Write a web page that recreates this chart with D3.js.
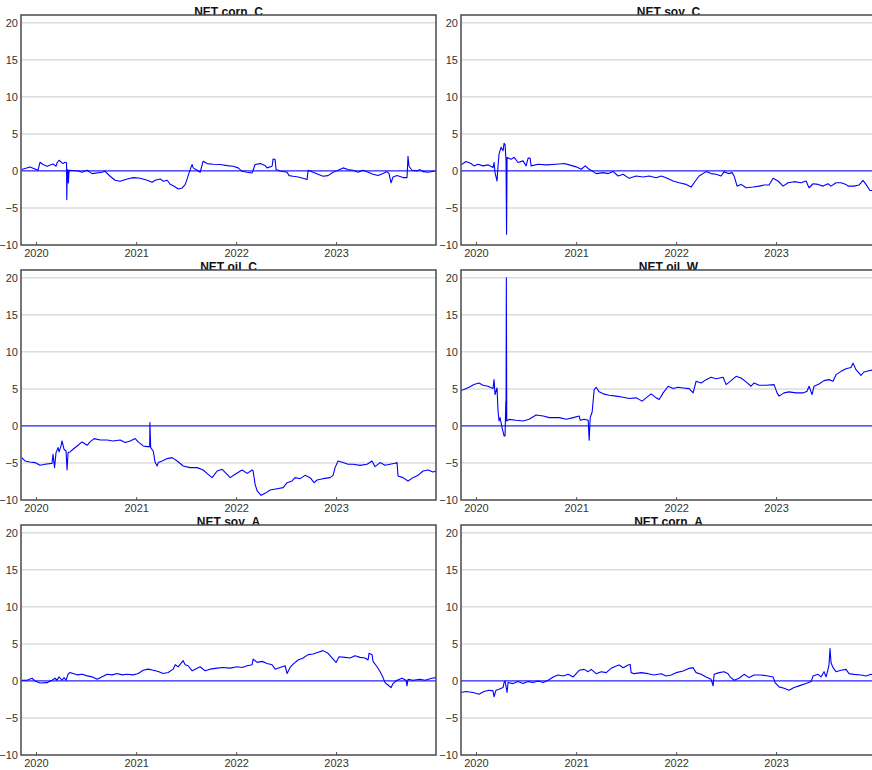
<!DOCTYPE html>
<html>
<head>
<meta charset="utf-8">
<script src="https://cdn.jsdelivr.net/npm/d3@7"></script>
<style>
  body { margin: 0; background: #fff; }
  svg { display: block; font-family: "Liberation Sans", Arial, sans-serif; }
</style>
</head>
<body>
<svg id="chart" width="872" height="770"></svg>
<script>
// series points: [decimal year, value]
const cornC = [
  [2019.857,0.18],[2019.94,0.54],[2020.02,0.09],[2020.04,1.17],[2020.07,0.86],[2020.11,0.63],[2020.17,0.95],
  [2020.20,0.63],[2020.21,1.08],[2020.23,1.44],[2020.27,0.99],[2020.29,1.17],[2020.305,1.1],[2020.307,-3.87],
  [2020.313,0.18],[2020.32,0.1],[2020.323,-1.62],[2020.33,0.09],[2020.42,0],[2020.46,-0.18],[2020.51,0.09],
  [2020.56,-0.36],[2020.66,-0.18],[2020.69,-0.05],[2020.74,-0.72],[2020.79,-1.26],[2020.84,-1.40],[2020.91,-1.08],
  [2020.97,-0.90],[2021.04,-0.99],[2021.11,-1.26],[2021.16,-1.53],[2021.19,-1.26],[2021.24,-1.08],[2021.27,-1.40],
  [2021.31,-1.26],[2021.34,-1.80],[2021.38,-2.07],[2021.42,-2.43],[2021.46,-2.30],[2021.49,-1.85],[2021.51,-1.08],
  [2021.52,-0.63],[2021.54,0.18],[2021.56,0.86],[2021.57,0.41],[2021.61,0.09],[2021.64,-0.18],[2021.67,1.31],
  [2021.71,0.99],[2021.77,0.90],[2021.84,0.86],[2021.91,0.72],[2021.97,0.63],[2022.02,0.41],[2022.06,-0.05],
  [2022.11,-0.18],[2022.16,-0.27],[2022.17,0.09],[2022.19,0.86],[2022.24,0.99],[2022.29,0.72],[2022.31,0.41],
  [2022.36,0.63],[2022.37,1.62],[2022.39,1.53],[2022.40,0.18],[2022.44,0],[2022.51,-0.18],[2022.53,-0.63],
  [2022.57,-0.72],[2022.62,-0.81],[2022.67,-0.99],[2022.71,-1.17],[2022.72,0.09],[2022.77,-0.18],[2022.82,-0.45],
  [2022.87,-0.72],[2022.92,-0.63],[2022.97,-0.18],[2023.02,0.09],[2023.07,0.41],[2023.12,0.18],[2023.17,0.09],
  [2023.22,-0.18],[2023.27,0.09],[2023.32,-0.18],[2023.37,-0.45],[2023.42,-0.63],[2023.47,-0.36],[2023.51,-0.09],
  [2023.53,-0.36],[2023.55,-1.62],[2023.57,-0.81],[2023.61,-0.63],[2023.67,-0.90],[2023.71,-0.90],[2023.72,1.98],
  [2023.73,0.63],[2023.76,0.09],[2023.81,0],[2023.84,0.18],[2023.87,-0.09],[2023.92,-0.18],[2023.99,0]
];

const soyC = [
  [2019.85,0.82],[2019.90,1.27],[2019.95,1.0],[2019.98,0.68],[2020.02,0.91],[2020.07,0.68],[2020.12,0.82],
  [2020.17,0.45],[2020.18,1.14],[2020.19,-0.23],[2020.21,-1.36],[2020.22,0.68],[2020.23,2.27],[2020.25,3.18],
  [2020.27,2.73],[2020.28,3.73],[2020.29,3.55],[2020.30,1.36],[2020.305,-8.55],[2020.31,1.82],[2020.35,1.59],
  [2020.38,1.82],[2020.42,1.14],[2020.47,1.36],[2020.50,0.68],[2020.52,1.73],[2020.54,1.73],[2020.55,0.68],
  [2020.62,0.91],[2020.70,0.82],[2020.80,0.91],[2020.88,1.0],[2020.93,0.82],[2021.00,0.55],[2021.05,0.23],
  [2021.09,0.68],[2021.13,0.23],[2021.17,-0.09],[2021.20,-0.36],[2021.27,-0.23],[2021.32,-0.36],[2021.37,-0.09],
  [2021.42,-0.68],[2021.47,-0.45],[2021.53,-1.0],[2021.60,-0.68],[2021.67,-0.82],[2021.73,-0.68],[2021.80,-0.91],
  [2021.85,-0.68],[2021.90,-0.91],[2021.97,-1.36],[2022.03,-1.59],[2022.10,-1.82],[2022.15,-2.18],[2022.18,-1.59],
  [2022.23,-0.68],[2022.30,-0.09],[2022.35,-0.36],[2022.40,-0.45],[2022.45,-0.68],[2022.48,-0.09],[2022.52,-0.36],
  [2022.56,-0.23],[2022.58,-0.68],[2022.61,-2.05],[2022.65,-1.82],[2022.70,-2.27],[2022.77,-2.18],[2022.83,-2.05],
  [2022.88,-1.91],[2022.93,-1.91],[2022.97,-1.0],[2023.02,-1.36],[2023.07,-2.05],[2023.12,-1.59],[2023.18,-1.45],
  [2023.25,-1.59],[2023.30,-1.36],[2023.33,-2.27],[2023.37,-1.73],[2023.42,-1.82],[2023.47,-2.05],[2023.52,-1.73],
  [2023.55,-2.05],[2023.60,-1.59],[2023.65,-1.59],[2023.70,-1.82],[2023.72,-2.05],[2023.78,-2.05],[2023.83,-1.91],
  [2023.87,-1.27],[2023.90,-1.82],[2023.94,-2.64],[2024.0,-2.64]
];

const oilC = [
  [2019.857,-4.28],[2019.89,-4.73],[2019.94,-4.86],[2019.99,-4.95],[2020.04,-5.32],[2020.09,-5.18],[2020.16,-5.05],
  [2020.17,-3.83],[2020.185,-5.63],[2020.20,-3.60],[2020.22,-2.93],[2020.23,-3.51],[2020.25,-2.70],[2020.26,-2.03],
  [2020.28,-3.15],[2020.30,-3.38],[2020.31,-5.95],[2020.32,-3.60],[2020.34,-3.51],[2020.37,-3.15],[2020.42,-2.61],
  [2020.46,-2.16],[2020.51,-2.61],[2020.54,-2.16],[2020.58,-1.71],[2020.64,-1.89],[2020.71,-1.89],[2020.77,-2.03],
  [2020.84,-1.89],[2020.89,-2.25],[2020.94,-2.03],[2020.99,-1.71],[2021.02,-2.16],[2021.07,-2.70],[2021.11,-2.79],
  [2021.135,-2.8],[2021.137,0.45],[2021.145,-2.93],[2021.17,-3.38],[2021.19,-4.95],[2021.21,-5.41],[2021.22,-4.95],
  [2021.26,-4.73],[2021.31,-4.41],[2021.36,-4.28],[2021.41,-4.73],[2021.47,-5.41],[2021.54,-5.63],[2021.61,-5.63],
  [2021.67,-5.95],[2021.72,-6.53],[2021.76,-6.98],[2021.81,-6.08],[2021.86,-5.86],[2021.91,-6.53],[2021.94,-6.98],
  [2021.99,-6.53],[2022.06,-5.95],[2022.11,-6.40],[2022.16,-5.95],[2022.17,-6.08],[2022.19,-7.88],[2022.21,-8.78],
  [2022.25,-9.37],[2022.29,-9.10],[2022.34,-8.65],[2022.41,-8.47],[2022.47,-8.33],[2022.51,-7.66],[2022.56,-7.43],
  [2022.59,-6.98],[2022.64,-7.12],[2022.69,-6.67],[2022.74,-6.98],[2022.78,-7.66],[2022.81,-7.30],[2022.87,-7.12],
  [2022.94,-6.98],[2022.97,-6.67],[2022.99,-5.63],[2023.02,-4.73],[2023.07,-4.95],[2023.12,-5.18],[2023.17,-5.18],
  [2023.24,-5.32],[2023.31,-5.18],[2023.36,-4.73],[2023.39,-5.50],[2023.44,-4.95],[2023.49,-5.32],[2023.54,-5.18],
  [2023.59,-5.05],[2023.61,-4.95],[2023.62,-6.76],[2023.67,-6.98],[2023.72,-7.43],[2023.77,-6.98],[2023.82,-6.67],
  [2023.87,-6.08],[2023.92,-5.95],[2023.97,-6.22],[2024.0,-6.08]
];

const oilW = [
  [2019.85,4.78],[2019.88,4.91],[2019.93,5.22],[2019.98,5.58],[2020.03,5.80],[2020.07,5.49],[2020.12,5.36],
  [2020.17,5.04],[2020.18,6.25],[2020.19,4.24],[2020.21,5.13],[2020.22,2.01],[2020.23,0.67],[2020.24,1.12],
  [2020.26,-0.22],[2020.28,-1.34],[2020.29,-1.34],[2020.298,3.35],[2020.30,0.8],[2020.303,20.0],[2020.307,0.67],
  [2020.33,0.89],[2020.40,0.76],[2020.47,0.67],[2020.53,0.89],[2020.60,1.47],[2020.67,1.34],[2020.73,1.12],
  [2020.83,1.12],[2020.90,0.89],[2020.97,1.12],[2021.03,1.34],[2021.04,0.76],[2021.08,0.89],[2021.12,0.76],
  [2021.13,-1.92],[2021.14,1.12],[2021.16,1.92],[2021.18,4.91],[2021.20,5.22],[2021.23,4.60],[2021.27,4.33],
  [2021.33,4.15],[2021.40,4.02],[2021.47,3.88],[2021.53,3.71],[2021.60,3.79],[2021.66,3.35],[2021.70,3.79],
  [2021.75,4.33],[2021.80,3.79],[2021.83,3.57],[2021.87,4.46],[2021.92,5.36],[2021.97,5.04],[2022.02,5.22],
  [2022.07,5.13],[2022.13,5.04],[2022.17,4.46],[2022.20,6.03],[2022.25,5.80],[2022.30,6.25],[2022.35,6.56],
  [2022.40,6.38],[2022.47,6.56],[2022.50,5.58],[2022.55,6.12],[2022.60,6.70],[2022.65,6.47],[2022.70,5.94],
  [2022.75,5.36],[2022.78,5.80],[2022.83,5.49],[2022.90,5.49],[2022.98,5.58],[2023.01,4.46],[2023.03,4.02],
  [2023.08,4.46],[2023.13,4.60],[2023.20,4.46],[2023.27,4.46],[2023.31,4.69],[2023.33,5.36],[2023.36,4.24],
  [2023.38,5.36],[2023.43,5.67],[2023.48,6.12],[2023.53,6.25],[2023.57,6.03],[2023.60,6.92],[2023.65,7.37],
  [2023.70,7.72],[2023.75,7.90],[2023.77,8.48],[2023.80,7.59],[2023.85,6.83],[2023.88,7.28],[2023.93,7.46],
  [2023.98,7.59],[2024.0,7.6]
];

const soyA = [
  [2019.857,0.09],[2019.91,0.09],[2019.96,0.36],[2019.99,0],[2020.04,-0.27],[2020.11,-0.23],[2020.16,0.09],
  [2020.19,0.36],[2020.21,0.09],[2020.23,0.55],[2020.26,0.09],[2020.28,0.45],[2020.30,0.09],[2020.32,0.91],
  [2020.34,1.14],[2020.37,1.0],[2020.41,0.82],[2020.46,0.91],[2020.51,0.68],[2020.56,0.55],[2020.61,0.23],
  [2020.66,0.55],[2020.71,0.91],[2020.76,0.82],[2020.81,1.0],[2020.86,0.82],[2020.91,0.91],[2020.97,0.82],
  [2021.02,1.0],[2021.07,1.45],[2021.12,1.59],[2021.17,1.45],[2021.22,1.27],[2021.27,1.0],[2021.32,1.14],
  [2021.37,1.59],[2021.39,2.18],[2021.42,1.91],[2021.47,2.73],[2021.49,2.18],[2021.52,2.05],[2021.56,1.36],
  [2021.59,1.59],[2021.64,1.91],[2021.69,1.36],[2021.74,1.59],[2021.81,1.73],[2021.87,1.82],[2021.94,1.73],
  [2022.01,1.91],[2022.06,1.82],[2022.11,2.05],[2022.16,2.18],[2022.17,2.95],[2022.21,2.50],[2022.26,2.64],
  [2022.31,2.36],[2022.36,2.18],[2022.39,1.59],[2022.44,1.82],[2022.49,2.05],[2022.51,1.0],[2022.54,1.82],
  [2022.57,2.27],[2022.62,2.82],[2022.67,3.09],[2022.72,3.55],[2022.77,3.64],[2022.82,3.86],[2022.87,4.09],
  [2022.92,3.73],[2022.97,2.95],[2023.00,2.50],[2023.03,3.27],[2023.09,3.18],[2023.14,3.09],[2023.19,3.41],
  [2023.24,3.18],[2023.29,3.09],[2023.32,2.82],[2023.33,3.73],[2023.36,3.55],[2023.37,2.64],[2023.41,1.91],
  [2023.44,1.27],[2023.47,0.45],[2023.49,-0.23],[2023.52,-0.55],[2023.55,-0.91],[2023.57,-0.36],[2023.61,0.09],
  [2023.66,0.36],[2023.70,0.09],[2023.71,-0.68],[2023.72,0.23],[2023.77,0.09],[2023.84,0.23],[2023.89,0.09],
  [2023.96,0.36],[2024.0,0.45]
];

const cornA = [
  [2019.85,-1.56],[2019.90,-1.43],[2019.97,-1.56],[2020.03,-1.79],[2020.08,-1.43],[2020.13,-1.25],[2020.17,-1.34],
  [2020.18,-2.14],[2020.20,-1.25],[2020.23,-1.12],[2020.27,-0.89],[2020.28,-0.22],[2020.29,0],[2020.31,-1.56],
  [2020.32,-0.22],[2020.37,-0.36],[2020.42,-0.09],[2020.47,-0.36],[2020.52,-0.09],[2020.57,-0.22],[2020.62,0],
  [2020.67,-0.22],[2020.72,0.09],[2020.77,0.54],[2020.82,0.80],[2020.87,0.67],[2020.92,0.89],[2020.97,0.54],
  [2021.00,0.98],[2021.03,1.43],[2021.08,1.56],[2021.12,1.25],[2021.15,1.56],[2021.20,0.98],[2021.25,1.25],
  [2021.30,1.12],[2021.35,1.70],[2021.40,2.01],[2021.43,2.14],[2021.47,1.79],[2021.52,2.14],[2021.54,2.23],
  [2021.55,1.12],[2021.58,0.98],[2021.65,1.12],[2021.72,0.98],[2021.78,0.80],[2021.85,0.98],[2021.90,0.67],
  [2021.95,0.80],[2022.00,1.12],[2022.07,1.34],[2022.13,1.70],[2022.17,1.79],[2022.20,1.12],[2022.25,0.89],
  [2022.30,0.54],[2022.35,0.22],[2022.37,-0.67],[2022.38,0.89],[2022.43,1.12],[2022.48,1.25],[2022.52,0.98],
  [2022.54,0.54],[2022.58,0.09],[2022.63,0.36],[2022.68,0.89],[2022.73,0.45],[2022.78,0.80],[2022.85,0.80],
  [2022.92,0.67],[2022.97,0.54],[2022.99,-0.22],[2023.03,-0.80],[2023.08,-0.98],[2023.13,-1.25],[2023.18,-0.89],
  [2023.23,-0.67],[2023.30,-0.36],[2023.35,-0.09],[2023.37,0.67],[2023.42,0.89],[2023.45,0.54],[2023.48,1.25],
  [2023.50,0.54],[2023.52,1.56],[2023.53,2.23],[2023.54,4.38],[2023.55,2.46],[2023.57,1.79],[2023.60,1.25],
  [2023.65,1.43],[2023.70,1.56],[2023.73,0.98],[2023.78,0.89],[2023.85,0.80],[2023.90,0.67],[2023.95,0.89],
  [2024.0,0.80]
];

const titles = ["NET corn_C", "NET soy_C", "NET oil_C", "NET oil_W", "NET soy_A", "NET corn_A"];
const seriesList = [cornC, soyC, oilC, oilW, soyA, cornA];
const yTicks = [-10, -5, 0, 5, 10, 15, 20];
const gridValues = [-5, 5, 10, 15, 20];
const yearTicks = [2020, 2021, 2022, 2023];
const xStart = 2019.85, xEnd = 2024.0;
const yMin = -10, yMax = 21.05;

function yearToDate(d) {
  const y = Math.floor(d);
  const s = Date.UTC(y, 0, 1), e = Date.UTC(y + 1, 0, 1);
  return new Date(s + (d - y) * (e - s));
}

const svg = d3.select("#chart");
const panelW = 415, panelH = 230;
const lefts = [21, 461];
const tops = [15, 270, 525];

seriesList.forEach((data, i) => {
  const col = i % 2, row = Math.floor(i / 2);
  const x0 = lefts[col], y0 = tops[row];

  const x = d3.scaleUtc()
    .domain([yearToDate(xStart), yearToDate(xEnd)])
    .range([x0, x0 + panelW]);
  const y = d3.scaleLinear()
    .domain([yMin, yMax])
    .range([y0 + panelH, y0]);

  const g = svg.append("g");

  // title (drawn first so the plot box covers its lower edge)
  g.append("text")
    .attr("x", x0 + panelW / 2)
    .attr("y", y0 + 1)
    .attr("text-anchor", "middle")
    .attr("font-size", 12)
    .attr("font-weight", "bold")
    .attr("fill", "#111")
    .text(titles[i]);

  g.append("rect")
    .attr("x", x0).attr("y", y0)
    .attr("width", panelW).attr("height", panelH)
    .attr("fill", "#fff");

  g.selectAll(".grid")
    .data(gridValues)
    .join("line")
    .attr("x1", x0).attr("x2", x0 + panelW)
    .attr("y1", d => y(d)).attr("y2", d => y(d))
    .attr("stroke", "#dcdcdc")
    .attr("stroke-width", 1.5);

  const clipId = "clip" + i;
  svg.append("clipPath").attr("id", clipId)
    .append("rect")
    .attr("x", x0).attr("y", y0)
    .attr("width", panelW).attr("height", panelH);

  g.append("line")
    .attr("x1", x0).attr("x2", x0 + panelW)
    .attr("y1", y(0)).attr("y2", y(0))
    .attr("stroke", "#2222ff")
    .attr("stroke-width", 1.3);

  const line = d3.line()
    .x(d => x(yearToDate(d[0])))
    .y(d => y(d[1]));

  g.append("path")
    .datum(data)
    .attr("clip-path", "url(#" + clipId + ")")
    .attr("fill", "none")
    .attr("stroke", "#0000ff")
    .attr("stroke-width", 1.1)
    .attr("stroke-linejoin", "round")
    .attr("d", line);

  // axes
  const xAxis = g.append("g")
    .attr("transform", "translate(0," + (y0 + panelH) + ")")
    .call(d3.axisBottom(x)
      .tickValues(yearTicks.map(yearToDate))
      .tickFormat(d3.utcFormat("%Y"))
      .tickSize(-3)
      .tickPadding(4));
  xAxis.select(".domain").remove();
  xAxis.selectAll("line").attr("stroke", "#555");
  xAxis.selectAll("text").attr("font-size", 11).attr("fill", "#333")
    .attr("font-family", "Liberation Sans, Arial, sans-serif");

  const yAxis = g.append("g")
    .attr("transform", "translate(" + x0 + ",0)")
    .call(d3.axisLeft(y).tickValues(yTicks).tickSize(0).tickPadding(3));
  yAxis.select(".domain").remove();
  yAxis.selectAll("text").attr("font-size", 11).attr("fill", "#333")
    .attr("font-family", "Liberation Sans, Arial, sans-serif");

  g.append("rect")
    .attr("x", x0).attr("y", y0)
    .attr("width", panelW).attr("height", panelH)
    .attr("fill", "none")
    .attr("stroke", "#4a4a4a")
    .attr("stroke-width", 1.5);
});
</script>
</body>
</html>
